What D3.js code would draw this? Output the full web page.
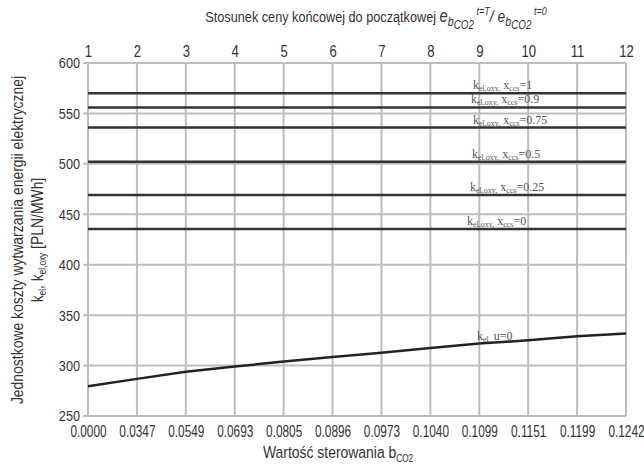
<!DOCTYPE html>
<html>
<head>
<meta charset="utf-8">
<script src="https://cdn.jsdelivr.net/npm/d3@7"></script>
<style>
  body { margin: 0; background: #fff; }
  svg { display: block; }
  .ax { font-family: "Liberation Sans", Arial, sans-serif; fill: #333; }
  .lbl { font-family: "Liberation Serif", "Times New Roman", serif; fill: #555; }
</style>
</head>
<body>
<svg id="chart" width="644" height="465"></svg>
<script>
// bottom axis: control value b_CO2
const bValues = ["0.0000", "0.0347", "0.0549", "0.0693", "0.0805", "0.0896",
                 "0.0973", "0.1040", "0.1099", "0.1151", "0.1199", "0.1242"];
// top axis: price ratio
const ratios = [1, 2, 3, 4, 5, 6, 7, 8, 9, 10, 11, 12];
// oxy-combustion plants (constant), by x_ccs
const xccs = ["1", "0.9", "0.75", "0.5", "0.25", "0"];
const kOxy = [570, 556, 536, 502, 469, 435.5];
// reference plant k_el, u=0
const kEl = [279.5, 286.8, 293.8, 299, 304, 308.6, 312.6, 317.5, 321.8, 325, 329, 331.7];
const yTicks = [250, 300, 350, 400, 450, 500, 550, 600];

const svg = d3.select("#chart");
const m = { left: 88, right: 18, top: 63, bottom: 49 };
const W = 644, H = 465;
const NX = 0.82; // horizontal squeeze, no narrow font installed

const x = d3.scalePoint().domain(bValues).range([m.left, W - m.right]);
const xTop = d3.scalePoint().domain(ratios).range([m.left, W - m.right]);
const y = d3.scaleLinear().domain([250, 600]).range([H - m.bottom, m.top]);

const grid = "#bdbdbd";

// grid
svg.append("g").selectAll("line").data(yTicks).join("line")
  .attr("x1", m.left - 5).attr("x2", W - m.right)
  .attr("y1", d => y(d)).attr("y2", d => y(d))
  .attr("stroke", grid).attr("stroke-width", 2);
svg.append("g").selectAll("line").data(bValues).join("line")
  .attr("x1", d => x(d)).attr("x2", d => x(d))
  .attr("y1", m.top).attr("y2", H - m.bottom)
  .attr("stroke", grid).attr("stroke-width", 2);

// axes text
const yAxis = svg.append("g").attr("transform", `translate(${m.left},0)`)
  .call(d3.axisLeft(y).tickValues(yTicks).tickSize(0).tickPadding(8));
yAxis.select(".domain").remove();
yAxis.selectAll("text").attr("class", "ax").attr("font-size", 15.5)
  .attr("x", -8 / NX).attr("transform", `scale(${NX},1)`);

const xAxis = svg.append("g").attr("transform", `translate(0,${H - m.bottom})`)
  .call(d3.axisBottom(x).tickSize(0).tickPadding(10));
xAxis.select(".domain").remove();
xAxis.selectAll("text").attr("class", "ax").attr("font-size", 16)
  .attr("transform", "scale(0.74,1)");

const xTopAxis = svg.append("g").attr("transform", `translate(0,${m.top})`)
  .call(d3.axisTop(xTop).tickSize(0).tickPadding(6));
xTopAxis.select(".domain").remove();
xTopAxis.selectAll("text").attr("class", "ax").attr("font-size", 16)
  .attr("transform", `scale(${NX},1)`);

// oxy lines
svg.append("g").selectAll("line").data(kOxy).join("line")
  .attr("x1", m.left).attr("x2", W - m.right)
  .attr("y1", d => y(d)).attr("y2", d => y(d))
  .attr("stroke", "#333").attr("stroke-width", 2.5);

// k_el curve
svg.append("path").datum(kEl)
  .attr("fill", "none").attr("stroke", "#222").attr("stroke-width", 2.5)
  .attr("d", d3.line().x((d, i) => x(bValues[i])).y(d => y(d)));

// line labels
const labX = [473, 471, 473, 472, 470, 467];
xccs.forEach((v, i) => {
  const t = svg.append("text").attr("class", "lbl").attr("font-size", 12)
    .attr("x", labX[i]).attr("y", y(kOxy[i]) - 4);
  t.append("tspan").text("k");
  t.append("tspan").attr("font-size", 8).attr("dy", 2).text("el,oxy,");
  t.append("tspan").attr("dy", -2).text(" x");
  t.append("tspan").attr("font-size", 8).attr("dy", 2).text("ccs");
  t.append("tspan").attr("dy", -2).text("=" + v);
});
const tu = svg.append("text").attr("class", "lbl").attr("font-size", 12)
  .attr("x", 477).attr("y", y(kEl[8]) - 4);
tu.append("tspan").text("k");
tu.append("tspan").attr("font-size", 8).attr("dy", 2).text("el,");
tu.append("tspan").attr("dy", -2).text(" u=0");

// titles
const topG = svg.append("g").attr("transform", `translate(376,22) scale(${NX},1)`);
const topTitle = topG.append("text").attr("class", "ax").attr("font-size", 15.5)
  .attr("text-anchor", "middle");
topTitle.append("tspan").text("Stosunek ceny końcowej do początkowej  ");
topTitle.append("tspan").attr("font-style", "italic").attr("font-size", 18).text("e");
topTitle.append("tspan").attr("font-style", "italic").attr("font-size", 13).attr("dy", 4).text("b");
topTitle.append("tspan").attr("font-style", "italic").attr("font-size", 12).attr("dy", 3).text("CO2");
topTitle.append("tspan").attr("font-style", "italic").attr("font-size", 11).attr("dy", -14).text("  t=T");
topTitle.append("tspan").attr("font-style", "italic").attr("font-size", 17).attr("dy", 7).text("/ e");
topTitle.append("tspan").attr("font-style", "italic").attr("font-size", 13).attr("dy", 4).text("b");
topTitle.append("tspan").attr("font-style", "italic").attr("font-size", 12).attr("dy", 3).text("CO2");
topTitle.append("tspan").attr("font-style", "italic").attr("font-size", 11).attr("dy", -14).text("  t=0");

const botG = svg.append("g").attr("transform", `translate(338,458) scale(${NX},1)`);
const botTitle = botG.append("text").attr("class", "ax").attr("font-size", 17)
  .attr("text-anchor", "middle");
botTitle.append("tspan").text("Wartość sterowania  b");
botTitle.append("tspan").attr("font-size", 10).attr("dy", 4).text("CO2");

const yt = svg.append("g").attr("transform", "translate(23,240) rotate(-90) scale(0.82,1)");
yt.append("text").attr("class", "ax").attr("font-size", 17).attr("text-anchor", "middle")
  .text("Jednostkowe koszty wytwarzania energii elektrycznej");
const yt2 = yt.append("text").attr("class", "ax").attr("font-size", 17)
  .attr("text-anchor", "middle").attr("y", 20);
yt2.append("tspan").text("k");
yt2.append("tspan").attr("font-size", 10).attr("dy", 3).text("el");
yt2.append("tspan").attr("dy", -3).text(", k");
yt2.append("tspan").attr("font-size", 10).attr("dy", 3).text("el,oxy");
yt2.append("tspan").attr("dy", -3).text(" [PLN/MWh]");
</script>
</body>
</html>
